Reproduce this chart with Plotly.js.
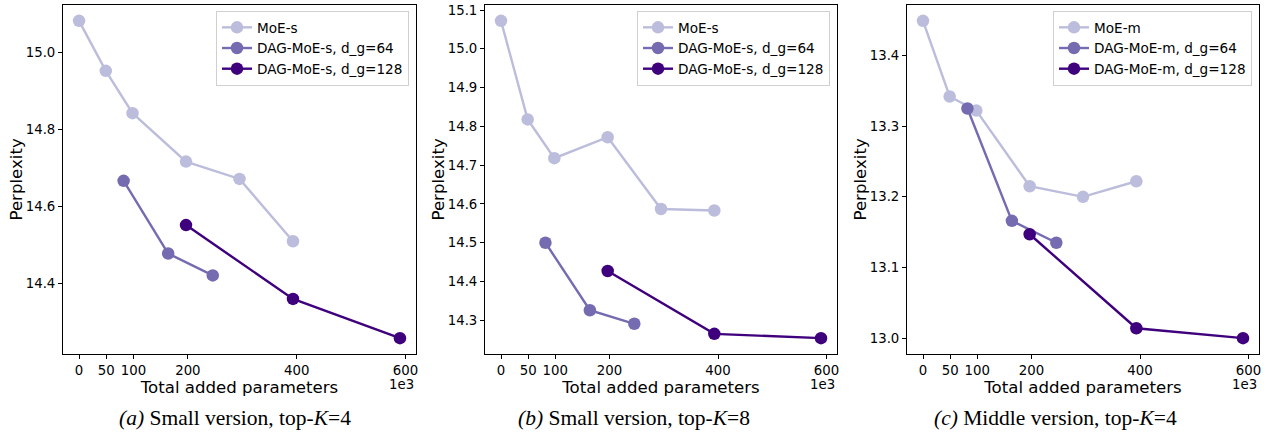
<!DOCTYPE html>
<html>
<head>
<meta charset="utf-8">
<script src="https://cdn.plot.ly/plotly-3.0.1.min.js"></script>
<style>html,body{margin:0;padding:0;background:#fff;} #chart{width:1269px;height:436px;}</style>
</head>
<body>
<div id="chart"></div>
<script>
// Total added parameters (x 1e3)
const moeX = [0, 49.152, 98.304, 196.608, 294.912, 393.216];
const dag64X = [81.92, 163.84, 245.76];
const dag128X = [196.608, 393.216, 589.824];
const xTickVals = [0, 50, 100, 200, 400, 600];
const xTickText = ['0', '50', '100', '200', '400', '600'];

// (a) Small version, top-K=4
const moeA = [15.083, 14.953, 14.843, 14.717, 14.672, 14.510];
const dag64A = [14.667, 14.478, 14.421];
const dag128A = [14.552, 14.360, 14.258];
// (b) Small version, top-K=8
const moeB = [15.072, 14.818, 14.718, 14.772, 14.587, 14.583];
const dag64B = [14.500, 14.326, 14.291];
const dag128B = [14.427, 14.265, 14.254];
// (c) Middle version, top-K=4
const moeC = [13.449, 13.342, 13.322, 13.215, 13.200, 13.222];
const dag64C = [13.325, 13.166, 13.135];
const dag128C = [13.147, 13.014, 13.000];

const namesS = ['MoE-s', 'DAG-MoE-s, d_g=64', 'DAG-MoE-s, d_g=128'];
const namesM = ['MoE-m', 'DAG-MoE-m, d_g=64', 'DAG-MoE-m, d_g=128'];
const captions = ['<i>(a)</i> Small version, top-<i>K</i>=4', '<i>(b)</i> Small version, top-<i>K</i>=8', '<i>(c)</i> Middle version, top-<i>K</i>=4'];
const xTitle = 'Total added parameters';
const yTitle = 'Perplexity';

const colors = ['#bcbddc', '#756bb1', '#3f007d'];
const W = 1269, H = 436;
const panelsPx = [[63, 416], [485, 837], [907, 1259]];
const legendRightPx = [409, 830, 1252];
const captionCx = [235, 634, 1055];
const yTitleCx = [16, 438, 860];
const plotTop = 5, plotBottom = 354;

const panels = [
  {ys: [moeA, dag64A, dag128A], names: namesS, dtick: 0.2},
  {ys: [moeB, dag64B, dag128B], names: namesS, dtick: 0.1},
  {ys: [moeC, dag64C, dag128C], names: namesM, dtick: 0.1}
];
const xsets = [moeX, dag64X, dag128X];

const FAM = 'DejaVu Sans, sans-serif';
const traces = [];
const layout = {
  width: W, height: H,
  margin: {l: 0, r: 0, t: 0, b: 0},
  paper_bgcolor: '#fff', plot_bgcolor: '#fff',
  font: {family: FAM, size: 13, color: '#000'},
  showlegend: true,
  annotations: []
};

const allX = [].concat(moeX, dag64X, dag128X);
const xmin = Math.min(...allX), xmax = Math.max(...allX);
const xpad = (xmax - xmin) * 0.05;

panels.forEach((p, i) => {
  const n = i === 0 ? '' : String(i + 1);
  const leg = i === 0 ? 'legend' : 'legend' + (i + 1);
  p.ys.forEach((y, k) => {
    traces.push({
      x: xsets[k], y: y, name: p.names[k],
      type: 'scatter', mode: 'lines+markers',
      xaxis: 'x' + n, yaxis: 'y' + n, legend: leg,
      line: {color: colors[k], width: 2.4},
      marker: {color: colors[k], size: 12.5}
    });
  });
  const allY = [].concat(...p.ys);
  const ymin = Math.min(...allY), ymax = Math.max(...allY);
  const ypad = (ymax - ymin) * 0.05;
  const axCommon = {showline: true, mirror: true, linecolor: '#000', linewidth: 1,
    ticks: 'outside', ticklen: 4, tickwidth: 1, tickcolor: '#000', showgrid: false, zeroline: false,
    automargin: false, tickfont: {family: FAM, size: 13.3, color: '#000'}};
  layout['xaxis' + n] = Object.assign({}, axCommon, {
    domain: [panelsPx[i][0] / W, panelsPx[i][1] / W],
    range: [xmin - xpad, xmax + xpad],
    tickvals: xTickVals, ticktext: xTickText,
    anchor: 'y' + n,
    title: {text: xTitle, font: {family: FAM, size: 16.6, color: '#000'}, standoff: 1}
  });
  layout['yaxis' + n] = Object.assign({}, axCommon, {
    domain: [(H - plotBottom) / H, (H - plotTop) / H],
    range: [ymin - ypad, ymax + ypad],
    dtick: p.dtick, tick0: 13, tickformat: '.1f',
    anchor: 'x' + n
  });
  layout.annotations.push({
    text: yTitle, xref: 'paper', yref: 'paper', x: yTitleCx[i] / W, y: (H - (plotTop + plotBottom) / 2) / H,
    xanchor: 'center', yanchor: 'middle', textangle: -90, showarrow: false,
    font: {family: FAM, size: 16.6, color: '#000'}
  });
  layout[leg] = {
    x: legendRightPx[i] / W, xanchor: 'right', xref: 'paper',
    y: (H - 11) / H, yanchor: 'top', yref: 'paper',
    bgcolor: 'rgba(255,255,255,0.8)', bordercolor: '#d0d0d0', borderwidth: 1,
    font: {family: FAM, size: 13.6, color: '#000'},
    itemwidth: 30, tracegroupgap: 0
  };
  layout.annotations.push({
    text: '1e3', xref: 'paper', yref: 'paper', x: panelsPx[i][1] / W, y: (H - 375) / H,
    xanchor: 'right', yanchor: 'top', showarrow: false,
    font: {family: FAM, size: 13.3, color: '#000'}
  });
  layout.annotations.push({
    text: captions[i], xref: 'paper', yref: 'paper', x: captionCx[i] / W, y: (H - 418) / H,
    xanchor: 'center', yanchor: 'middle', showarrow: false,
    font: {family: 'Liberation Serif, Times New Roman, serif', size: 21.5, color: '#000'}
  });
});

Plotly.newPlot('chart', traces, layout, {displayModeBar: false, staticPlot: true});
</script>
</body>
</html>
